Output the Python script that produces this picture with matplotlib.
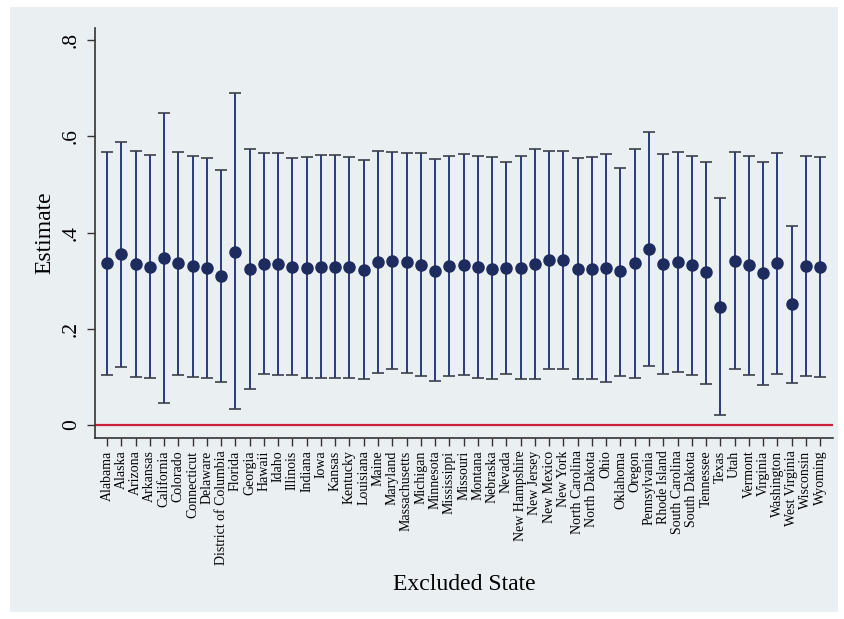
import matplotlib.pyplot as plt
from matplotlib.patches import Rectangle

states = ["Alabama", "Alaska", "Arizona", "Arkansas", "California", "Colorado",
          "Connecticut", "Delaware", "District of Columbia", "Florida", "Georgia",
          "Hawaii", "Idaho", "Illinois", "Indiana", "Iowa", "Kansas", "Kentucky",
          "Louisiana", "Maine", "Maryland", "Massachusetts", "Michigan", "Minnesota",
          "Mississippi", "Missouri", "Montana", "Nebraska", "Nevada", "New Hampshire",
          "New Jersey", "New Mexico", "New York", "North Carolina", "North Dakota",
          "Ohio", "Oklahoma", "Oregon", "Pennsylvania", "Rhode Island",
          "South Carolina", "South Dakota", "Tennessee", "Texas", "Utah", "Vermont",
          "Virginia", "Washington", "West Virginia", "Wisconsin", "Wyoming"]

estimate = [0.336, 0.355, 0.334, 0.329, 0.348, 0.336, 0.331, 0.327, 0.310, 0.360,
            0.324, 0.335, 0.335, 0.329, 0.327, 0.329, 0.329, 0.328, 0.322, 0.339,
            0.341, 0.338, 0.332, 0.321, 0.330, 0.332, 0.328, 0.324, 0.326, 0.326,
            0.334, 0.343, 0.343, 0.324, 0.325, 0.327, 0.319, 0.336, 0.366, 0.335,
            0.339, 0.332, 0.317, 0.246, 0.341, 0.332, 0.315, 0.337, 0.251, 0.331,
            0.328]

ci_low = [0.104, 0.121, 0.099, 0.097, 0.046, 0.104, 0.100, 0.097, 0.090, 0.033,
          0.074, 0.105, 0.103, 0.104, 0.098, 0.097, 0.097, 0.097, 0.095, 0.109,
          0.117, 0.109, 0.102, 0.091, 0.102, 0.104, 0.098, 0.095, 0.106, 0.095,
          0.095, 0.117, 0.117, 0.096, 0.096, 0.090, 0.102, 0.098, 0.123, 0.106,
          0.110, 0.103, 0.085, 0.021, 0.116, 0.103, 0.083, 0.106, 0.087, 0.102,
          0.100]

ci_high = [0.568, 0.589, 0.569, 0.562, 0.649, 0.567, 0.560, 0.555, 0.530, 0.689,
           0.573, 0.566, 0.565, 0.555, 0.556, 0.562, 0.562, 0.556, 0.551, 0.570,
           0.567, 0.565, 0.565, 0.552, 0.559, 0.564, 0.559, 0.556, 0.547, 0.559,
           0.573, 0.570, 0.570, 0.555, 0.557, 0.564, 0.535, 0.573, 0.608, 0.563,
           0.568, 0.558, 0.547, 0.471, 0.567, 0.560, 0.547, 0.566, 0.414, 0.559,
           0.556]

yticks = [0, 0.2, 0.4, 0.6, 0.8]
ytick_labels = ["0", ".2", ".4", ".6", ".8"]

bg = "#eaeff2"
navy = "#1e2b5e"
serif = ["Liberation Serif", "DejaVu Serif"]

fig = plt.figure(figsize=(8.44, 6.19), dpi=100, facecolor="white")
# light graph region inside a thin white margin
fig.patches.append(Rectangle((10 / 844, 7 / 619), 828 / 844, 605 / 619,
                             transform=fig.transFigure, facecolor=bg,
                             edgecolor="none", zorder=-10))

ax = fig.add_axes([95 / 844, 1 - 438 / 619, 738 / 844, 410 / 619])
ax.set_facecolor(bg)

x = list(range(len(states)))
err_lo = [e - lo for e, lo in zip(estimate, ci_low)]
err_hi = [hi - e for e, hi in zip(estimate, ci_high)]

# confidence intervals: blue stems with dark caps
ax.errorbar(x, estimate, yerr=[err_lo, err_hi], fmt="none", ecolor="#2b3b80",
            elinewidth=1.4, capsize=0, zorder=2)
ax.errorbar(x, estimate, yerr=[err_lo, err_hi], fmt="none", ecolor="#3a3f4a",
            elinewidth=0, capsize=4, capthick=1.2, zorder=2)
ax.plot(x, estimate, "o", color=navy, markersize=8, zorder=3)
ax.axhline(0, color="#c8203a", linewidth=1.6, zorder=1)

ax.set_xlim(-0.84, 50.9)
ax.set_ylim(-0.027, 0.825)

ax.set_yticks(yticks)
ax.set_yticklabels(ytick_labels, rotation=90, va="center", fontsize=15.5,
                   family=serif)
ax.set_xticks(x)
ax.set_xticklabels(states, rotation=90, fontsize=10, family=serif)
ax.tick_params(axis="both", direction="out", length=6, width=1, color="#333333",
               pad=3)
ax.tick_params(axis="y", pad=4)

ax.set_ylabel("Estimate", fontsize=17, family=serif, labelpad=5)
ax.set_xlabel("Excluded State", fontsize=17, family=serif, labelpad=6)

for side in ("top", "right"):
    ax.spines[side].set_visible(False)
for side in ("left", "bottom"):
    ax.spines[side].set_color("#333333")
    ax.spines[side].set_linewidth(1.2)

fig.savefig("out.png", dpi=100, facecolor="white")
